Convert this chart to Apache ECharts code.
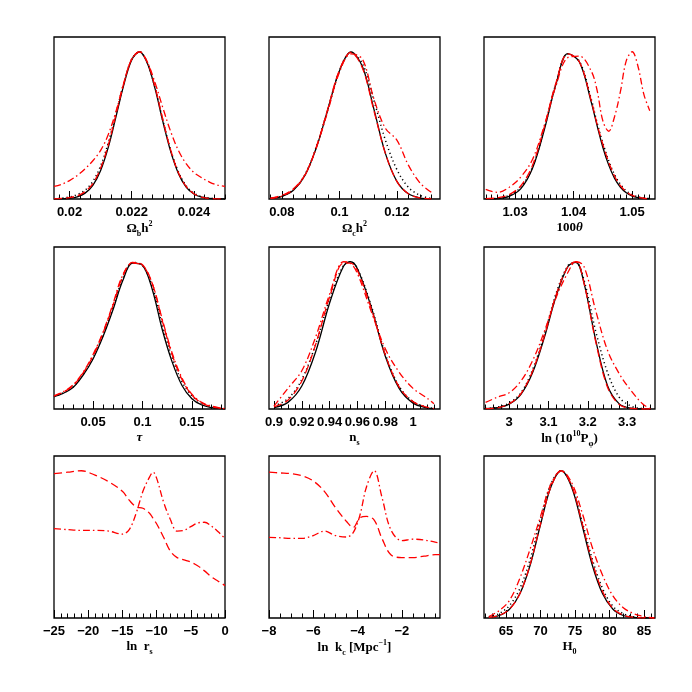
<!DOCTYPE html>
<html>
<head>
<meta charset="utf-8">
<script src="https://cdn.jsdelivr.net/npm/echarts@6/dist/echarts.min.js"></script>
<style>
  html, body { margin: 0; padding: 0; background: #fff; }
  #main { width: 692px; height: 692px; }
</style>
</head>
<body>
<div id="main"></div>
<script>
// --- panel 1: Omega_b h^2
const p1x = [0.0195,0.01975,0.02,0.02025,0.0205,0.02075,0.021,0.02125,0.0215,0.02175,0.022,0.02225,0.0225,0.02275,0.023,0.02325,0.0235,0.02375,0.024,0.02425,0.0245,0.02475,0.025];
const p1solid = [0,0.001,0.005,0.015,0.04,0.093,0.194,0.354,0.564,0.778,0.944,1.0,0.923,0.749,0.527,0.325,0.174,0.081,0.034,0.012,0.004,0.001,0];
const p1dotted = [0.002,0.006,0.014,0.03,0.06,0.12,0.225,0.385,0.585,0.79,0.95,1.0,0.925,0.755,0.535,0.335,0.185,0.09,0.04,0.016,0.006,0.002,0];
const p1dashed = [0.001,0.004,0.01,0.022,0.05,0.105,0.21,0.37,0.58,0.79,0.95,1.0,0.93,0.76,0.54,0.335,0.18,0.085,0.036,0.013,0.004,0.001,0];
const p1dashdot = [0.085,0.1,0.125,0.16,0.205,0.26,0.33,0.44,0.6,0.79,0.95,1.0,0.93,0.79,0.62,0.46,0.33,0.24,0.18,0.145,0.115,0.095,0.085];

// --- panel 2: Omega_c h^2
const p2x = [0.076,0.08,0.084,0.088,0.092,0.096,0.1,0.104,0.108,0.112,0.116,0.12,0.124,0.128,0.132];
const p2solid = [0.004,0.018,0.06,0.16,0.35,0.61,0.87,0.998,0.90,0.61,0.31,0.12,0.035,0.008,0.001];
const p2dotted = [0.004,0.02,0.065,0.165,0.355,0.61,0.87,0.995,0.92,0.67,0.40,0.20,0.08,0.025,0.004];
const p2dashed = [0.006,0.025,0.07,0.165,0.355,0.615,0.875,0.995,0.89,0.60,0.31,0.12,0.035,0.008,0.001];
const p2dashdot = [0.004,0.02,0.065,0.16,0.35,0.6,0.86,0.985,0.95,0.68,0.48,0.4,0.23,0.11,0.045];

// --- panel 3: 100 theta
const p3x = [1.025,1.027,1.029,1.031,1.033,1.035,1.037,1.039,1.041,1.043,1.044,1.045,1.046,1.047,1.048,1.049,1.05,1.051,1.052,1.053];
const p3solid = [0.0005,0.003,0.018,0.07,0.21,0.47,0.78,0.987,0.93,0.66,0.50,0.35,0.23,0.14,0.08,0.042,0.02,0.009,0.004,0.0016];
const p3dotted = [0.001,0.005,0.025,0.08,0.22,0.48,0.785,0.985,0.935,0.68,0.52,0.38,0.26,0.165,0.1,0.055,0.03,0.015,0.007,0.003];
const p3dashed = [0.002,0.008,0.03,0.09,0.23,0.49,0.79,0.985,0.93,0.67,0.51,0.37,0.25,0.155,0.09,0.05,0.025,0.012,0.005,0.002];
const p3dashdot = [0.065,0.045,0.08,0.15,0.27,0.5,0.77,0.96,0.97,0.87,0.74,0.53,0.46,0.56,0.73,0.94,1.0,0.9,0.71,0.6];

// --- panel 4: tau
const p4x = [0.0105,0.02,0.03,0.04,0.05,0.06,0.07,0.08,0.09,0.1,0.11,0.12,0.13,0.14,0.15,0.16,0.17,0.18,0.1835];
const p4solid = [0.084,0.107,0.148,0.23,0.34,0.49,0.67,0.87,0.99,0.975,0.81,0.54,0.32,0.16,0.07,0.027,0.009,0.002,0];
const p4dotted = [0.085,0.11,0.152,0.235,0.35,0.5,0.685,0.885,0.995,0.975,0.83,0.57,0.35,0.185,0.09,0.038,0.014,0.004,0.001];
const p4dashed = [0.088,0.115,0.16,0.245,0.36,0.515,0.7,0.9,0.995,0.98,0.85,0.6,0.37,0.2,0.095,0.04,0.016,0.005,0.002];
const p4dashdot = [0.09,0.118,0.165,0.25,0.37,0.52,0.71,0.91,0.99,0.975,0.85,0.61,0.38,0.21,0.1,0.045,0.02,0.006,0.002];

// --- panel 5: n_s
const p5x = [0.9,0.91,0.92,0.93,0.94,0.95,0.955,0.96,0.97,0.98,0.99,1.0,1.01,1.015];
const p5solid = [0.01,0.045,0.156,0.39,0.72,0.969,1.0,0.953,0.69,0.36,0.14,0.04,0.008,0.003];
const p5dotted = [0.02,0.07,0.2,0.44,0.75,0.975,1.0,0.955,0.7,0.375,0.155,0.05,0.012,0.004];
const p5dashed = [0.015,0.06,0.19,0.44,0.76,0.99,0.99,0.94,0.68,0.37,0.15,0.05,0.012,0.004];
const p5dashdot = [0.02,0.14,0.26,0.49,0.78,1.0,0.99,0.92,0.66,0.41,0.25,0.14,0.075,0.035];

// --- panel 6: ln(10^10 P)
const p6x = [2.94,2.97,3.0,3.03,3.06,3.09,3.12,3.15,3.17,3.19,3.22,3.25,3.28,3.31,3.34,3.36];
const p6solid = [0.002,0.0085,0.033,0.1,0.25,0.49,0.77,0.97,0.996,0.86,0.47,0.16,0.035,0.005,0,0];
const p6dotted = [0.003,0.012,0.04,0.11,0.27,0.51,0.79,0.975,0.995,0.88,0.53,0.25,0.08,0.02,0.003,0];
const p6dashed = [0.002,0.008,0.035,0.105,0.26,0.5,0.78,0.97,1.0,0.86,0.46,0.15,0.03,0.004,0,0];
const p6dashdot = [0.045,0.08,0.11,0.19,0.33,0.53,0.76,0.93,1.0,0.97,0.67,0.4,0.24,0.125,0.034,0];

// --- panel 7: ln r_s
const p7x = [-25,-23,-21,-19,-17,-15,-14,-13,-12,-11,-10.5,-10,-9,-8,-7,-6,-5,-4,-3,-2,-1,0];
const p7dashed = [0.98,0.99,1.0,0.97,0.925,0.86,0.8,0.755,0.745,0.71,0.675,0.64,0.55,0.455,0.41,0.395,0.38,0.355,0.32,0.28,0.25,0.22];
const p7dashdot = [0.607,0.6,0.595,0.595,0.59,0.57,0.6,0.71,0.86,0.96,0.99,0.95,0.79,0.67,0.59,0.595,0.62,0.645,0.65,0.625,0.585,0.54];

// --- panel 8: ln k_c
const p8x = [-8,-7.5,-7,-6.5,-6,-5.5,-5,-4.5,-4.2,-3.9,-3.6,-3.25,-2.9,-2.5,-2,-1.5,-1,-0.5,-0.28];
const p8dashed = [0.99,0.985,0.98,0.965,0.93,0.86,0.75,0.655,0.615,0.68,0.69,0.665,0.54,0.43,0.41,0.41,0.42,0.43,0.43];
const p8dashdot = [0.547,0.545,0.54,0.54,0.56,0.59,0.56,0.55,0.58,0.695,0.89,1.0,0.82,0.6,0.525,0.535,0.53,0.515,0.51];

// --- panel 9: H0
const p9x = [62.5,64,65.5,67,68.5,70,71.5,73,74.5,76,77.5,79,80.5,82,83.5,85,86.5];
const p9solid = [0.004,0.017,0.059,0.164,0.36,0.635,0.89,1.0,0.89,0.635,0.36,0.164,0.059,0.017,0.004,0.001,0];
const p9dotted = [0.008,0.03,0.085,0.2,0.4,0.67,0.91,1.0,0.9,0.66,0.4,0.2,0.08,0.03,0.008,0.002,0];
const p9dashed = [0.004,0.018,0.06,0.165,0.365,0.64,0.89,1.0,0.9,0.65,0.38,0.18,0.065,0.02,0.005,0.001,0];
const p9dashdot = [0.01,0.05,0.12,0.27,0.47,0.69,0.91,1.0,0.92,0.72,0.48,0.29,0.15,0.07,0.03,0.01,0];

// tick labels
const t1 = [0.02, 0.022, 0.024];
const t2 = [0.08, 0.1, 0.12];
const t3 = [1.03, 1.04, 1.05];
const t4 = [0.05, 0.1, 0.15];
const t5 = [0.9, 0.92, 0.94, 0.96, 0.98, 1];
const t6 = [3, 3.1, 3.2, 3.3];
const t7 = [-25, -20, -15, -10, -5, 0];
const t8 = [-8, -6, -4, -2];
const t9 = [65, 70, 75, 80, 85];

const names = [
  '{a|Ω}{s|b}{a|h}{u|2}',
  '{a|Ω}{s|c}{a|h}{u|2}',
  '{a|100}{i|θ}',
  '{i|τ}',
  '{a|n}{s|s}',
  '{a|ln (10}{u|10}{a|P}{s|φ}{a|)}',
  '{a|ln  r}{s|s}',
  '{a|ln  k}{s|c}{a| [Mpc}{u|−1}{a|]}',
  '{a|H}{s|0}'
];

const panels = [
  {x: p1x, lines: [p1solid, p1dotted, p1dashed, p1dashdot], min: 0.0195, max: 0.025, ticks: t1, minor: 0.002 / 6},
  {x: p2x, lines: [p2solid, p2dotted, p2dashed, p2dashdot], min: 0.0755, max: 0.135, ticks: t2, minor: 0.004},
  {x: p3x, lines: [p3solid, p3dotted, p3dashed, p3dashdot], min: 1.0247, max: 1.0539, ticks: t3, minor: 0.001},
  {x: p4x, lines: [p4solid, p4dotted, p4dashed, p4dashdot], min: 0.0105, max: 0.1835, ticks: t4, minor: 0.01},
  {x: p5x, lines: [p5solid, p5dotted, p5dashed, p5dashdot], min: 0.8964, max: 1.0194, ticks: t5, minor: 0.005},
  {x: p6x, lines: [p6solid, p6dotted, p6dashed, p6dashdot], min: 2.936, max: 3.371, ticks: t6, minor: 0.02},
  {x: p7x, lines: [null, null, p7dashed, p7dashdot], min: -25, max: 0, ticks: t7, minor: 1},
  {x: p8x, lines: [null, null, p8dashed, p8dashdot], min: -8, max: -0.28, ticks: t8, minor: 0.5},
  {x: p9x, lines: [p9solid, p9dotted, p9dashed, p9dashdot], min: 61.8, max: 86.6, ticks: t9, minor: 1}
];

const lefts = [54, 269, 484];
const tops = [37, 247, 456];
const W = 171, H = 162;

const lineStyles = [
  {color: '#000', width: 1.3, type: 'solid'},
  {color: '#000', width: 1.5, type: [1.2, 3]},
  {color: '#ff0000', width: 1.3, type: [8, 4]},
  {color: '#ff0000', width: 1.3, type: [7, 3, 1.5, 3]}
];

function minorTicks(min, max, step, majors) {
  const out = [];
  const start = majors[0];
  let k = Math.ceil((min - start) / step - 1e-6);
  for (; start + k * step <= max + 1e-9; k++) {
    const v = +(start + k * step).toFixed(7);
    if (!majors.some(m => Math.abs(m - v) < step * 1e-3)) out.push(v);
  }
  return out;
}

const serif = "'Liberation Serif', 'DejaVu Serif', serif";
const rich = {
  a: {fontFamily: serif, fontWeight: 'bold', fontSize: 13, lineHeight: 18, color: '#000'},
  i: {fontFamily: serif, fontWeight: 'bold', fontStyle: 'italic', fontSize: 13, lineHeight: 18, color: '#000'},
  s: {fontFamily: serif, fontWeight: 'bold', fontSize: 8, lineHeight: 10, verticalAlign: 'bottom', color: '#000'},
  u: {fontFamily: serif, fontWeight: 'bold', fontSize: 8, lineHeight: 10, verticalAlign: 'top', color: '#000'}
};

const grid = [], xAxis = [], yAxis = [], series = [];
panels.forEach((p, i) => {
  grid.push({
    left: lefts[i % 3], top: tops[Math.floor(i / 3)], width: W, height: H,
    show: true, borderColor: '#000', borderWidth: 1.3, backgroundColor: 'transparent'
  });
  xAxis.push({
    type: 'value', gridIndex: i, min: p.min, max: p.max,
    name: names[i], nameLocation: 'middle', nameGap: 20,
    nameTextStyle: {rich: rich},
    axisLine: {show: false},
    splitLine: {show: false},
    axisTick: {show: true, inside: true, length: 8, customValues: p.ticks, lineStyle: {color: '#000', width: 1}},
    axisLabel: {
      show: true, margin: 7, customValues: p.ticks, showMinLabel: true, showMaxLabel: true,
      fontFamily: "'Liberation Sans', Arial, sans-serif", fontWeight: 'bold', fontSize: 13, color: '#000',
      formatter: v => String(v).replace('-', '\u2212')
    }
  });
  xAxis.push({
    type: 'value', gridIndex: i, min: p.min, max: p.max, position: 'bottom',
    axisLine: {show: false}, splitLine: {show: false}, axisLabel: {show: false},
    axisTick: {show: true, inside: true, length: 4.5, customValues: minorTicks(p.min, p.max, p.minor, p.ticks), lineStyle: {color: '#000', width: 1}}
  });
  yAxis.push({type: 'value', gridIndex: i, min: 0, max: 1.1, show: false});
  p.lines.forEach((ys, j) => {
    if (!ys) return;
    series.push({
      type: 'line', xAxisIndex: 2 * i, yAxisIndex: i,
      data: p.x.map((x, k) => [x, ys[k]]),
      showSymbol: false, smooth: 0.35, silent: true,
      lineStyle: lineStyles[j]
    });
  });
});

const chart = echarts.init(document.getElementById('main'), null, {renderer: 'canvas'});
chart.setOption({
  animation: false,
  backgroundColor: '#fff',
  grid: grid, xAxis: xAxis, yAxis: yAxis, series: series
});
</script>
</body>
</html>
